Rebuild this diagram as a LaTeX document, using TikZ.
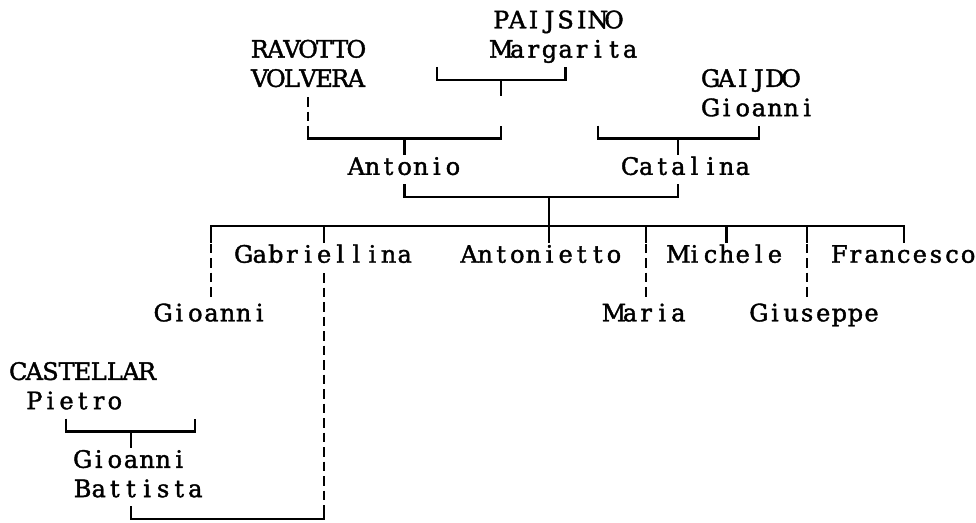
\documentclass[tikz,border=0pt]{standalone}
\usepackage{fontspec}
\newfontfamily\famfont[FakeBold=1.6]{DejaVu Serif}
\def\monoText#1{\monoStep#1\monoEnd}
\def\monoEnd{\relax}
\def\monoStep#1{\ifx#1\monoEnd\else\makebox[16.1pt]{#1}\expandafter\monoStep\fi}
\newcommand\famBracket[5]{% name, row, left col, tick col, right col
  \coordinate (#1L) at ({colc(#3)},{topy(#2)});
  \coordinate (#1R) at ({colc(#5)},{topy(#2)});
  \coordinate (#1T) at ({colc(#4)},{liney(#2)});
  \coordinate (#1D) at ({colc(#4)},{boty(#2)});
  \draw[conn] (#1L) |- (#1T) -| (#1R);
  \draw[conn] (#1T) -- (#1D);}
\begin{document}
\begin{tikzpicture}[x=1pt,y=-1pt,
  declare function={colc(\x)=18.05+16.1*\x; coll(\x)=10+16.1*\x;
    basey(\x)=28.3+29.3*\x; liney(\x)=basey(\x)-7; topy(\x)=basey(\x)-20; boty(\x)=basey(\x)+9.3;},
  person/.style={font=\famfont\fontsize{24}{29.3}\selectfont, inner sep=0pt, anchor=base west},
  conn/.style={line width=2.1pt},
  dconn/.style={line width=2.1pt, dash pattern=on 9.5pt off 5pt}]
\useasboundingbox[fill=white] (0,0) rectangle (976,522);

% persons
\node[person] (pai1) at ({coll(30)},{basey(0)}) {\monoText{PAIJSINO}};
\node[person] (pai2) at ({coll(30)},{basey(1)}) {\monoText{Margarita}};
\node[person] (rav1) at ({coll(15)},{basey(1)}) {\monoText{RAVOTTO}};
\node[person] (rav2) at ({coll(15)},{basey(2)}) {\monoText{VOLVERA}};
\node[person] (gai1) at ({coll(43)},{basey(2)}) {\monoText{GAIJDO}};
\node[person] (gai2) at ({coll(43)},{basey(3)}) {\monoText{Gioanni}};
\node[person] (antonio) at ({coll(21)},{basey(5)}) {\monoText{Antonio}};
\node[person] (catalina) at ({coll(38)},{basey(5)}) {\monoText{Catalina}};
\node[person] (gabriellina) at ({coll(14)},{basey(8)}) {\monoText{Gabriellina}};
\node[person] (antonietto) at ({coll(28)},{basey(8)}) {\monoText{Antonietto}};
\node[person] (michele) at ({coll(41)},{basey(8)}) {\monoText{Michele}};
\node[person] (francesco) at ({coll(51)},{basey(8)}) {\monoText{Francesco}};
\node[person] (gioanni) at ({coll(9)},{basey(10)}) {\monoText{Gioanni}};
\node[person] (maria) at ({coll(37)},{basey(10)}) {\monoText{Maria}};
\node[person] (giuseppe) at ({coll(46)},{basey(10)}) {\monoText{Giuseppe}};
\node[person] (cas1) at ({coll(0)},{basey(12)}) {\monoText{CASTELLAR}};
\node[person] (cas2) at ({coll(1)},{basey(13)}) {\monoText{Pietro}};
\node[person] (gb1) at ({coll(4)},{basey(15)}) {\monoText{Gioanni}};
\node[person] (gb2) at ({coll(4)},{basey(16)}) {\monoText{Battista}};

% brackets
\famBracket{pm}{2}{26}{30}{34}
\famBracket{ap}{4}{18}{24}{30}
\famBracket{cp}{4}{36}{41}{46}
\famBracket{mar}{6}{24}{33}{41}
\famBracket{pb}{14}{3}{7}{11}

% dashed line from RAVOTTO VOLVERA
\coordinate (ravA) at ({colc(18)},{topy(3)+1});
\draw[dconn] (ravA) -- (apL);

% children bar
\coordinate (kidL) at ({colc(12)},{boty(7)});
\coordinate (kidR) at ({colc(55)},{boty(7)});
\coordinate (kidC) at ({colc(33)},{liney(7)});
\coordinate (kidD) at ({colc(33)},{boty(7)});
\draw[conn] (kidL) |- (kidC) -| (kidR);
\draw[conn] (marT) -- (marD) -- (kidD);
\foreach \k in {19,39,44,49}
  \draw[conn] ({colc(\k)},{liney(7)}) -- ({colc(\k)},{boty(7)});

% dashed descents
\foreach \k in {12,39,49}
  \draw[dconn] ({colc(\k)},{topy(8)+1}) -- ({colc(\k)},{boty(9)});
\coordinate (gabD) at ({colc(19)},{topy(9)+1});
\coordinate (botR) at ({colc(19)},{topy(17)});
\coordinate (botL) at ({colc(7)},{topy(17)});
\coordinate (botH) at ({colc(19)},{liney(17)});
\draw[dconn] (gabD) -- (botR);
\draw[conn] (botL) |- (botH) -- (botR);
\end{tikzpicture}
\end{document}
